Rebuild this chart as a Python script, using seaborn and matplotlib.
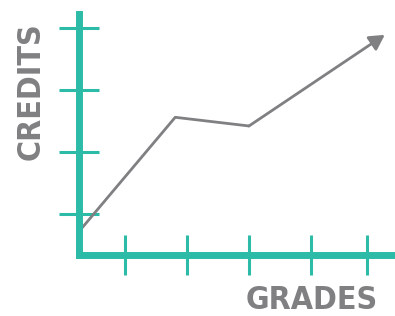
import matplotlib
matplotlib.use("Agg")
import matplotlib.pyplot as plt
import seaborn as sns
import pandas as pd

# line path (grade units, credit units), last point is the arrow tip
grades = [0.26, 1.81, 3.0, 5.19]
credits = [0.72, 2.56, 2.42, 3.89]

grade_ticks = [1, 2, 3, 4, 4.9]
credit_ticks = [1, 2, 3, 4]

TEAL = "#2bbba6"
GRAY = "#808083"

sns.set_style("white")
plt.rcParams["font.family"] = ["DejaVu Sans"]

fig = plt.figure(figsize=(3.95, 3.16), dpi=100)
ax = fig.add_axes([0, 0, 1, 1])
ax.set_xlim(-1.016, 5.355)
ax.set_ylim(-0.645, 4.452)
ax.patch.set_alpha(0)

df = pd.DataFrame({"grade": grades[:-1], "credit": credits[:-1]})
sns.lineplot(data=df, x="grade", y="credit", color=GRAY, lw=2.0, ax=ax)
ax.annotate("", xy=(grades[-1], credits[-1]), xytext=(grades[-2], credits[-2]),
            arrowprops=dict(arrowstyle="-|>,head_length=0.9,head_width=0.5",
                            color=GRAY, lw=2.0, shrinkA=0, shrinkB=0))

for side in ["top", "right"]:
    ax.spines[side].set_visible(False)
ax.spines["left"].set_position(("data", grades[0]))
ax.spines["bottom"].set_position(("data", 0.34))
ax.spines["left"].set_bounds(0.34, 4.23)
ax.spines["bottom"].set_bounds(grades[0], 5.4)
for side in ["left", "bottom"]:
    ax.spines[side].set_color(TEAL)
    ax.spines[side].set_linewidth(5)
    ax.spines[side].set_capstyle("projecting")

ax.set_xticks(grade_ticks)
ax.set_yticks(credit_ticks)
ax.tick_params(direction="inout", length=28.5, width=2.2, color=TEAL,
               bottom=True, left=True, labelbottom=False, labelleft=False)
ax.set_xlabel("")
ax.set_ylabel("")

label_style = dict(fontsize=23, fontweight="bold", fontstretch="condensed",
                   color=GRAY, ha="center", va="center")
fig.text(0.078, 0.713, "CREDITS", rotation=90, **label_style)
fig.text(0.789, 0.05, "GRADES", **label_style)

fig.savefig("out.png", dpi=100)
